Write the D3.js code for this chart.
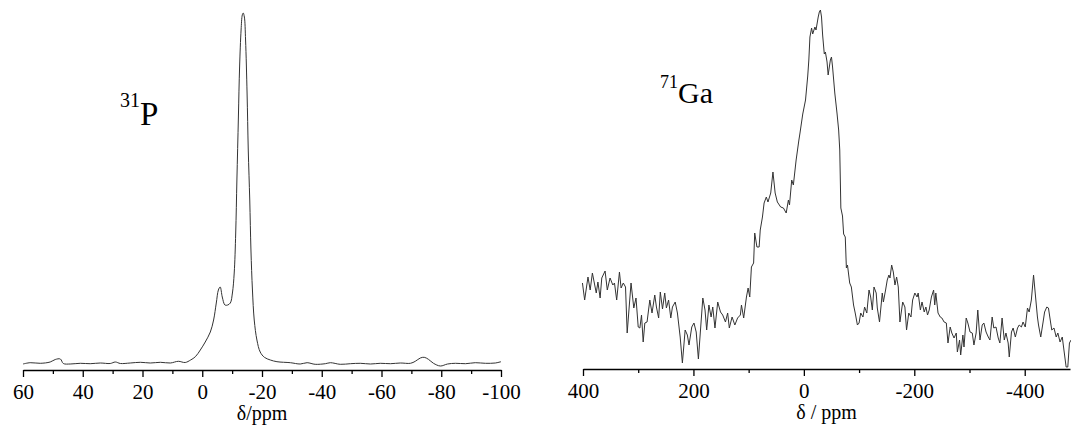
<!DOCTYPE html>
<html>
<head>
<meta charset="utf-8">
<script src="https://cdn.jsdelivr.net/npm/d3@7"></script>
<style>
  body { margin: 0; background: #fff; }
  svg text { font-family: "Liberation Serif", "Times New Roman", serif !important; fill: #000; }
</style>
</head>
<body>
<div id="views"></div>
<script>
// 31P spectrum (chemical shift in ppm, intensity in arbitrary units)
var pShift = [60,57.6,54.2,50.9,49.2,47.5,46.5,44.2,40.8,37.5,
    34.1,30.8,29.1,27.4,24.1,20.7,17.4,14.0,10.7,8.0,
    5.7,3.9,2.3,0.65,-1.0,-2.7,-3.8,-4.7,-5.4,-6.0,
    -6.7,-7.6,-8.5,-9.4,-10.1,-10.7,-11.2,-11.6,-12.1,-12.5,
    -13.0,-13.4,-13.7,-14.1,-14.5,-15.0,-15.4,-15.9,-16.3,-16.8,
    -17.4,-18.3,-19.4,-20.8,-22.8,-25.0,-29.5,-32.8,-35.1,-37.8,
    -41.2,-42.9,-46.2,-49.6,-52.9,-56.3,-59.6,-63.0,-66.3,-69.7,
    -71.3,-73.0,-74.3,-75.7,-77.4,-79.7,-82.1,-84.8,-88.1,-91.4,
    -94.8,-98.1,-100];
var pIntensity = [6,7.3,6.7,8,10.5,11,6.5,6,6.7,6.3,
    7,6.5,8,6.5,7,7.7,7,7.7,7,8.7,
    7.5,10,13.3,20,28,38,50,67,80,83,
    73,65,65,67,77,97,137,190,253,303,
    340,355,357,353,330,277,220,170,120,80,
    50,30,18,12.7,10,8.3,7.3,6,7.3,5.7,
    6.3,7.3,5.7,6.3,6.7,6,6.7,6.3,7,6.7,
    8.7,12,12.7,10.7,6.7,4,6,6.7,6.3,7.3,
    6.7,7,8.3];

// 71Ga spectrum
var gaShift = [401,397,391,387,383,376,373,369,366,360,
    356,351,346,343,339,334,331,327,323,320,
    313,308,304,300,297,294,291,288,284,279,
    275,270,267,263,260,256,252,249,245,241,
    238,233,229,224,220,215,211,208,203,199,
    195,191,183,179,176,172,168,165,161,156,
    151,147,142,138,135,130,125,120,115,113,
    109,104,101,98,95,91,89,85,81,79,
    75,72,68,65,60,56,52,48,42,37,
    32,28,26,22,19,14,9,7,2,-3,
    -7,-9,-11,-14,-16,-20,-22,-26,-28,-30,
    -32,-34,-37,-39,-42,-44,-48,-50,-52,-56,
    -60,-63,-65,-67,-70,-72,-75,-77,-79,-83,
    -86,-90,-93,-97,-100,-103,-107,-110,-114,-118,
    -121,-124,-127,-131,-133,-137,-142,-144,-148,-151,
    -154,-156,-159,-162,-165,-168,-171,-174,-179,-183,
    -186,-190,-194,-197,-201,-205,-207,-211,-214,-218,
    -221,-224,-227,-231,-235,-237,-239,-243,-247,-250,
    -254,-258,-261,-265,-268,-272,-276,-278,-282,-284,
    -288,-290,-294,-297,-301,-305,-308,-312,-315,-319,
    -323,-326,-330,-334,-337,-341,-344,-348,-352,-355,
    -359,-363,-366,-370,-372,-376,-379,-383,-387,-390,
    -394,-397,-401,-405,-408,-412,-416,-419,-423,-425,
    -429,-433,-436,-440,-443,-447,-449,-453,-457,-460,
    -464,-468,-471,-475,-478,-481,-484];
var gaIntensity = [86,69,92,79,96,76,87,71,91,98,
    79,91,84,86,69,97,81,86,82,36,
    86,61,71,42,41,54,27,46,47,69,
    56,74,62,51,77,60,76,61,69,51,
    62,67,56,32,6,39,34,24,42,46,
    37,10,71,59,39,64,52,62,41,67,
    57,54,47,56,41,52,44,51,54,64,
    51,72,81,72,102,106,136,122,122,139,
    152,166,172,167,176,197,176,167,162,161,
    156,169,164,189,184,209,229,236,255,269,
    293,309,332,341,335,342,339,352,357,359,
    352,334,315,317,307,294,309,312,302,276,
    256,239,219,161,153,135,132,101,104,86,
    82,64,56,44,46,56,52,62,56,79,
    72,59,82,76,61,47,76,67,79,89,
    94,91,104,97,84,92,82,47,67,62,
    39,56,52,69,76,72,76,59,67,57,
    62,54,59,72,79,64,76,56,52,51,
    47,46,26,42,36,31,36,17,29,14,
    34,22,51,46,37,36,24,36,59,29,
    44,46,37,32,29,52,41,42,31,26,
    51,29,36,26,12,37,41,32,41,44,
    42,47,42,61,57,69,94,76,52,44,
    32,46,57,62,61,46,39,41,32,36,
    27,32,19,2,2,26,29];

var pTicks = [60,40,20,0,-20,-40,-60,-80,-100];
var pMinorTicks = [50,30,10,-10,-30,-50,-70,-90];
var gaTicks = [400,200,0,-200,-400];
var gaMinorTicks = [300,100,-100,-300];

var W = 1071, H = 429;
var serif = "'Liberation Serif', 'Times New Roman', serif";
var svg = d3.select("#views").append("svg")
    .attr("width", W).attr("height", H);

svg.append("rect").attr("width", W).attr("height", H).attr("fill", "#fff");

function drawAxis(scale, major, minor, yPos, title) {
    var g = svg.append("g").attr("transform", "translate(0," + yPos + ")");

    g.append("g")
        .call(d3.axisBottom(scale).tickValues(minor).tickSize(4).tickFormat(""))
        .call(a => a.select(".domain").remove());

    var ax = g.append("g")
        .call(d3.axisBottom(scale).tickValues(major).tickSize(7).tickSizeOuter(0)
            .tickFormat(d => String(d)));

    g.selectAll("line").attr("stroke", "#000").attr("stroke-width", 1.3);
    ax.select(".domain").attr("stroke", "#000").attr("stroke-width", 1.6);
    ax.selectAll("text")
        .attr("dy", null).attr("y", 29)
        .style("font-size", "21px")
        .style("font-family", serif);

    var r = scale.range();
    g.append("text")
        .attr("x", (r[0] + r[1]) / 2).attr("y", 50)
        .attr("text-anchor", "middle")
        .style("font-size", "20px")
        .style("font-family", serif)
        .text(title);
}

function renderP() {
    var x = d3.scaleLinear().domain([60, -100]).range([23, 501]);
    var y = d3.scaleLinear().domain([0, 360]).range([370, 10]);

    var line = d3.line()
        .x(function(d, i) { return x(pShift[i]); })
        .y(function(d) { return y(d); })
        .curve(d3.curveCatmullRom);

    svg.append("path")
        .datum(pIntensity)
        .attr("d", line)
        .attr("fill", "none")
        .attr("stroke", "#333")
        .attr("stroke-width", 1);

    drawAxis(x, pTicks, pMinorTicks, 370, "δ/ppm");

    var lbl = svg.append("text").attr("x", 120).attr("y", 125).style("font-family", serif);
    lbl.append("tspan").style("font-size", "20px").attr("dy", -18).text("31");
    lbl.append("tspan").style("font-size", "33px").attr("dy", 18).text("P");
}

function renderGa() {
    var x = d3.scaleLinear().domain([400, -482]).range([583, 1070]);
    var y = d3.scaleLinear().domain([0, 360]).range([369, 9]);

    var line = d3.line()
        .x(function(d, i) { return x(gaShift[i]); })
        .y(function(d) { return y(d); });

    svg.append("path")
        .datum(gaIntensity)
        .attr("d", line)
        .attr("fill", "none")
        .attr("stroke", "#333")
        .attr("stroke-width", 1)
        .attr("stroke-linejoin", "round");

    drawAxis(x, gaTicks, gaMinorTicks, 369, "δ / ppm");

    var lbl = svg.append("text").attr("x", 660).attr("y", 103).style("font-family", serif);
    lbl.append("tspan").style("font-size", "18px").attr("dy", -15).text("71");
    lbl.append("tspan").style("font-size", "30px").attr("dy", 15).text("Ga");
}

renderP();
renderGa();
</script>
</body>
</html>
